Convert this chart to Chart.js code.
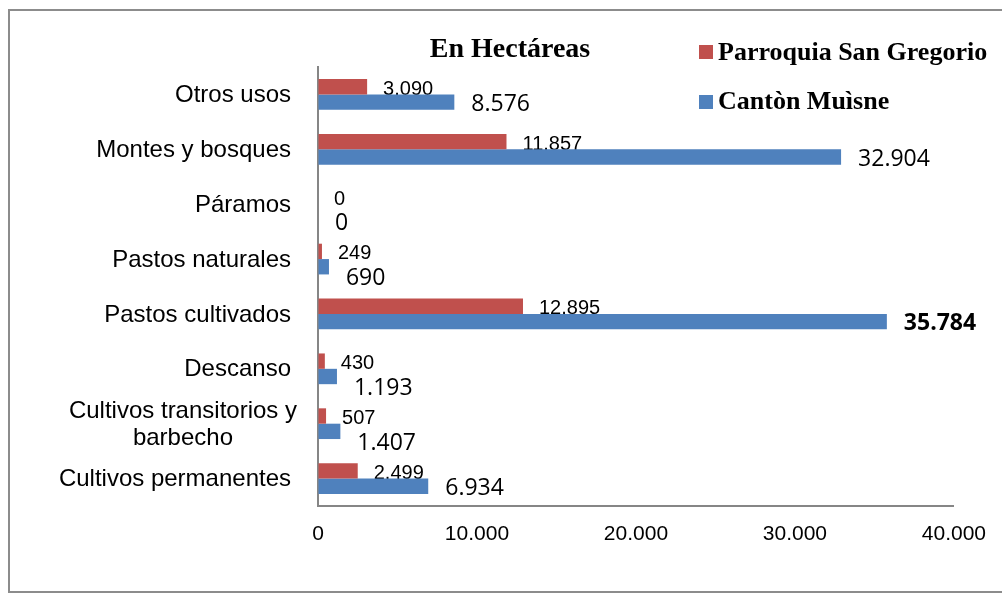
<!DOCTYPE html>
<html>
<head>
<meta charset="utf-8">
<script src="https://cdn.jsdelivr.net/npm/chart.js@4/dist/chart.umd.min.js"></script>
<style>
  body { margin: 0; background: #fff; }
  canvas { display: block; }
</style>
</head>
<body>
<canvas id="usoChart" width="1002" height="596"></canvas>
<script>
const categories = [
  'Otros usos',
  'Montes y bosques',
  'Páramos',
  'Pastos naturales',
  'Pastos cultivados',
  'Descanso',
  ['Cultivos transitorios y', 'barbecho'],
  'Cultivos permanentes'
]
const parroquia = [3090, 11857, 0, 249, 12895, 430, 507, 2499]
const canton = [8576, 32904, 0, 690, 35784, 1193, 1407, 6934]
const xTicks = [0, 10000, 20000, 30000, 40000]

const seriesNames = ['Parroquia San Gregorio', 'Cantòn Muìsne']
const colors = ['#C0504D', '#4F81BD']

const fmt = v => String(v).replace(/\B(?=(\d{3})+(?!\d))/g, '.')

// frame, title, legend, category labels
const decor = {
  id: 'decor',
  beforeDraw(chart) {
    let ctx = chart.ctx
    ctx.save()
    ctx.strokeStyle = '#8c8c8c'
    ctx.lineWidth = 2
    ctx.strokeRect(9, 10, 1010, 582)
    ctx.restore()
  },
  afterDraw(chart) {
    let ctx = chart.ctx
    ctx.save()
    ctx.fillStyle = '#000'
    ctx.textBaseline = 'alphabetic'
    ctx.font = 'bold 28px "Liberation Serif"'
    ctx.textAlign = 'center'
    ctx.fillText('En Hectáreas', 510, 57)

    ctx.font = 'bold 26px "Liberation Serif"'
    ctx.textAlign = 'left'
    let rows = [{ y: 60, box: 45 }, { y: 109, box: 95 }]
    seriesNames.forEach((name, i) => {
      ctx.fillStyle = colors[i]
      ctx.fillRect(699, rows[i].box, 14, 14)
      ctx.fillStyle = '#000'
      ctx.fillText(name, 718, rows[i].y)
    })

    // category labels, right aligned block, wrapped lines centred inside
    let yScale = chart.scales.y
    ctx.font = '24px "Liberation Sans"'
    ctx.textBaseline = 'middle'
    ctx.textAlign = 'center'
    let right = 291
    categories.forEach((lab, i) => {
      let lines = Array.isArray(lab) ? lab : [lab]
      let w = Math.max(...lines.map(l => ctx.measureText(l).width))
      let cx = right - w / 2
      if (lines.length > 1) cx = right + 6 - w / 2
      let cy = yScale.getPixelForValue(i)
      let lh = 26.5
      lines.forEach((l, j) => {
        ctx.fillText(l, cx, cy + (j - (lines.length - 1) / 2) * lh + 1)
      })
    })
    ctx.restore()
  }
}

const valueLabels = {
  id: 'valueLabels',
  beforeDatasetsDraw(chart) {
    // red labels go under the blue bars
    let ctx = chart.ctx
    let meta = chart.getDatasetMeta(0)
    ctx.save()
    ctx.font = '20px "Liberation Sans"'
    ctx.fillStyle = '#000'
    ctx.textAlign = 'left'
    ctx.textBaseline = 'middle'
    meta.data.forEach((bar, i) => {
      ctx.fillText(fmt(parroquia[i]), bar.x + 16, bar.y + 2.5)
    })
    ctx.restore()
  },
  afterDatasetsDraw(chart) {
    let ctx = chart.ctx
    let meta = chart.getDatasetMeta(1)
    let top = Math.max(...canton)
    ctx.save()
    ctx.fillStyle = '#000'
    ctx.textAlign = 'left'
    ctx.textBaseline = 'middle'
    meta.data.forEach((bar, i) => {
      let v = canton[i]
      ctx.font = (v === top ? 'bold ' : '') + '23px "Open Sans"'
      let dy = v < 2000 ? 12 : 2
      ctx.fillText(fmt(v), bar.x + 17, bar.y + dy)
    })
    ctx.restore()
  }
}

const chart = new Chart(document.getElementById('usoChart'), {
  type: 'bar',
  data: {
    labels: categories,
    datasets: [
      { label: seriesNames[0], data: parroquia, backgroundColor: colors[0] },
      { label: seriesNames[1], data: canton, backgroundColor: colors[1] }
    ]
  },
  options: {
    indexAxis: 'y',
    responsive: false,
    animation: false,
    devicePixelRatio: 1,
    layout: { padding: { left: 0, top: 67, right: 47, bottom: 0 } },
    datasets: { bar: { categoryPercentage: 0.56, barPercentage: 1 } },
    plugins: {
      legend: { display: false },
      title: { display: false },
      tooltip: { enabled: false }
    },
    scales: {
      x: {
        min: 0,
        max: 40000,
        afterBuildTicks: s => { s.ticks = xTicks.map(v => ({ value: v })) },
        grid: { color: 'transparent', drawTicks: false },
        border: { display: true, color: '#868686', width: 2 },
        ticks: {
          padding: 16,
          color: '#000',
          font: { family: 'Liberation Sans', size: 21 },
          callback: v => fmt(v)
        },
        afterFit: s => { s.height = 90 }
      },
      y: {
        grid: { color: 'transparent', drawTicks: false },
        border: { display: true, color: '#868686', width: 2 },
        ticks: { display: false },
        afterFit: s => { s.width = 318 }
      }
    }
  },
  plugins: [decor, valueLabels]
})
</script>
</body>
</html>
